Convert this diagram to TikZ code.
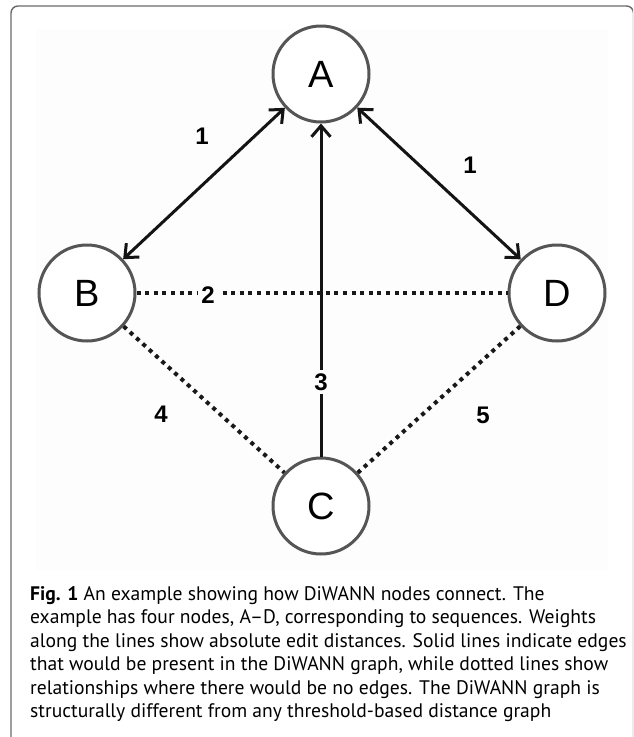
\documentclass[tikz,border=0pt]{standalone}
\usepackage{fontspec}
\setmainfont{Liberation Sans}
\newfontfamily\capfont{PT Sans}
\usetikzlibrary{arrows.meta}
\definecolor{ringgray}{HTML}{555555}
\definecolor{framegray}{HTML}{6A6A6A}
\definecolor{panelbg}{HTML}{FDFDFD}
\tikzset{
  seqnode/.style={circle, draw=ringgray, line width=3pt, fill=white, minimum size=96pt, inner sep=0pt, font=\fontsize{38}{40}\selectfont},
  edgesolid/.style={line width=3pt, draw=black!92},
  edgedot/.style={line width=4pt, draw=black!90, dash pattern=on 4pt off 4.6pt},
  wlabel/.style={font=\bfseries\fontsize{24}{26}\selectfont, fill=panelbg, inner sep=3pt},
  biarrow/.style={arrows={Straight Barb[length=11pt,width=19pt]-Straight Barb[length=11pt,width=19pt]}},
  onearrow/.style={arrows={-Straight Barb[length=11pt,width=19pt]}},
  capline/.style={anchor=base west, inner sep=0pt, font=\capfont\fontsize{19.6}{23}\selectfont}
}
\begin{document}
\begin{tikzpicture}[x=1pt,y=-1pt]
\useasboundingbox (0,0) rectangle (633,737);
\fill[white] (0,0) rectangle (633,737);
\begin{scope}
\clip (0,0) rectangle (633,737);
\draw[framegray, line width=1.4pt, rounded corners=7pt] (11,6) rectangle (633.5,800);
\end{scope}
\fill[panelbg] (36,29) rectangle (608,570);

\node[seqnode] (A) at (321,74) {A};
\node[seqnode] (B) at (87,293) {B};
\node[seqnode] (D) at (557,293) {D};
\node[seqnode] (C) at (321,506) {C};

\draw[edgesolid, biarrow] (B) -- (A);
\draw[edgesolid, biarrow] (A) -- (D);
\draw[edgesolid, onearrow] (C) -- (A);
\draw[edgedot] (B) -- (D);
\draw[edgedot] (B) -- (C);
\draw[edgedot] (D) -- (C);

\node[wlabel] (w1) at (202,136) {1};
\node[wlabel] (w1b) at (470,165) {1};
\node[wlabel] (w2) at (208,295) {2};
\node[wlabel] (w3) at (321,382) {3};
\node[wlabel] (w4) at (161,414) {4};
\node[wlabel] (w5) at (483,415) {5};

\node[capline] (cap1) at (30,600) {\textbf{Fig. 1} An example showing how DiWANN nodes connect. The};
\node[capline] (cap2) at (30,623.5) {example has four nodes, A–D, corresponding to sequences. Weights};
\node[capline] (cap3) at (30,647) {along the lines show absolute edit distances. Solid lines indicate edges};
\node[capline] (cap4) at (30,670.5) {that would be present in the DiWANN graph, while dotted lines show};
\node[capline] (cap5) at (30,694) {relationships where there would be no edges. The DiWANN graph is};
\node[capline] (cap6) at (30,717.5) {structurally different from any threshold-based distance graph};
\end{tikzpicture}
\end{document}
